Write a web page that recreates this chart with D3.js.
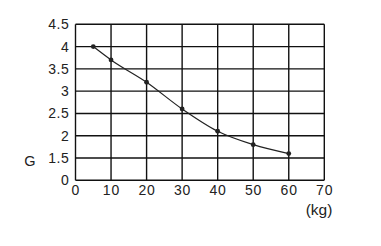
<!DOCTYPE html>
<html lang="en">
<head>
<meta charset="UTF-8">
<title>G vs kg</title>
<script src="https://d3js.org/d3.v7.min.js"></script>
<style>
  body { margin: 0; background: #fff; }
  text { font-family: "Liberation Sans", Arial, sans-serif; fill: #222; }
</style>
</head>
<body>
<script>
var massKg = [5, 10, 20, 30, 40, 50, 60];
var gValues = [4.0, 3.7, 3.2, 2.6, 2.1, 1.8, 1.6];
var xTicks = [0, 10, 20, 30, 40, 50, 60, 70];
var yTicks = [0, 1.5, 2, 2.5, 3, 3.5, 4, 4.5];

var width = 381, height = 246;

var x = d3.scaleLinear().domain([0, 70]).range([75.5, 324.3]);
// broken axis: 0 then jump to 1.5
var y = d3.scaleLinear().domain([0, 1.5, 4.5]).range([180.3, 158, 24.3]);

var svg = d3.select('body').append('svg')
  .attr('width', width).attr('height', height);

// grid
svg.append('g').selectAll('line').data(xTicks).join('line')
  .attr('x1', d => x(d)).attr('x2', d => x(d))
  .attr('y1', y(4.5)).attr('y2', y(0))
  .attr('stroke', '#111').attr('stroke-width', 1.4);

svg.append('g').selectAll('line').data(yTicks).join('line')
  .attr('x1', x(0)).attr('x2', x(70))
  .attr('y1', d => y(d)).attr('y2', d => y(d))
  .attr('stroke', '#111').attr('stroke-width', 1.4);

// tick labels
svg.append('g').selectAll('text').data(yTicks).join('text')
  .attr('x', 69.5).attr('y', d => y(d))
  .attr('dy', '0.36em')
  .attr('text-anchor', 'end')
  .attr('font-size', 14)
  .attr('letter-spacing', 0.6)
  .text(d => d);

svg.append('g').selectAll('text').data(xTicks).join('text')
  .attr('x', d => x(d) + 0.4).attr('y', 194.5)
  .attr('text-anchor', 'middle')
  .attr('font-size', 14)
  .attr('letter-spacing', 0.8)
  .text(d => d);

svg.append('text').attr('x', 30).attr('y', 161).attr('dy', '0.36em')
  .attr('text-anchor', 'middle').attr('font-size', 14.5).text('G');

svg.append('text').attr('x', 319).attr('y', 214.5)
  .attr('text-anchor', 'middle').attr('font-size', 15.5).text('(kg)');

// curve
var pts = massKg.map((m, i) => [m, gValues[i]]);
var line = d3.line()
  .x(d => x(d[0])).y(d => y(d[1]))
  .curve(d3.curveMonotoneX);

svg.append('path').datum(pts)
  .attr('d', line)
  .attr('fill', 'none')
  .attr('stroke', '#222')
  .attr('stroke-width', 1.2);

svg.append('g').selectAll('circle').data(pts).join('circle')
  .attr('cx', d => x(d[0])).attr('cy', d => y(d[1]))
  .attr('r', 2.4).attr('fill', '#222');
</script>
</body>
</html>
